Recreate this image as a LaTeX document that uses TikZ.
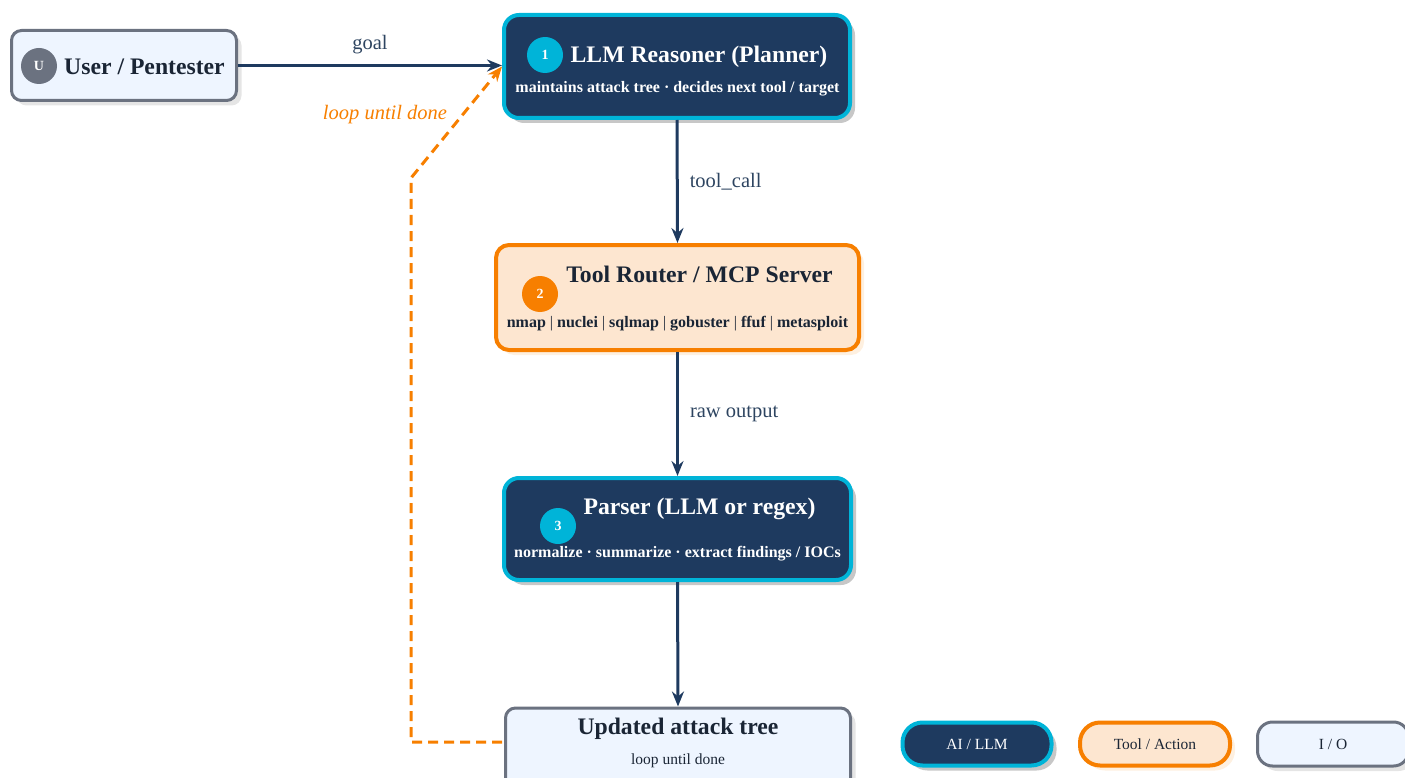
\documentclass[tikz,border=0pt]{standalone}
\usepackage{fontspec}
\setmainfont{Liberation Serif}
\usetikzlibrary{arrows.meta,shadows}
\definecolor{navy}{HTML}{1E3A5F}
\definecolor{cyanc}{HTML}{00B4D8}
\definecolor{orng}{HTML}{F77F00}
\definecolor{peach}{HTML}{FDE6D0}
\definecolor{slate}{HTML}{6B7280}
\definecolor{iofill}{HTML}{EEF5FF}
\definecolor{darktext}{HTML}{1A2535}
\definecolor{labelc}{HTML}{2D4460}
\tikzset{
  aibox/.style={draw=cyanc, fill=navy, line width=4pt, rounded corners=15pt, inner sep=0pt,
    drop shadow={shadow xshift=5pt, shadow yshift=-5pt, fill=black!22, opacity=1}},
  toolbox/.style={draw=orng, fill=peach, line width=4pt, rounded corners=13pt, inner sep=0pt,
    drop shadow={shadow xshift=5pt, shadow yshift=-5pt, fill=orng!12, opacity=1}},
  iobox/.style={draw=slate, fill=iofill, line width=3pt, rounded corners=10pt, inner sep=0pt,
    drop shadow={shadow xshift=5pt, shadow yshift=-5pt, fill=black!10, opacity=1}},
  badge/.style={circle, minimum size=36pt, inner sep=0pt, text=white,
    font=\bfseries\fontsize{14}{16}\selectfont},
  titletxt/.style={font=\bfseries\fontsize{23.7}{26}\selectfont, inner sep=0pt},
  subtxt/.style={font=\bfseries\fontsize{16}{18}\selectfont, inner sep=0pt},
  legtxt/.style={font=\fontsize{15.5}{18}\selectfont},
  flow/.style={draw=navy, line width=3pt, -{Stealth[length=15pt,width=12pt,inset=5pt]}},
  loopline/.style={draw=orng, line width=3pt, dash pattern=on 10pt off 6pt,
    -{Stealth[length=15pt,width=12pt,inset=5pt]}},
  elabel/.style={text=labelc, font=\fontsize{20.5}{24}\selectfont, inner sep=0pt}
}
\begin{document}
\begin{tikzpicture}[x=1pt,y=-1pt]
\useasboundingbox (0,0) rectangle (1405,778);
% boxes
\node[iobox, minimum width=225pt, minimum height=70pt] (user) at (124,65.5) {};
\node[badge, fill=slate] (ub) at (39,66) {U};
\node[titletxt, text=darktext, anchor=west] (ut) at (64,67) {User / Pentester};

\node[aibox, minimum width=346pt, minimum height=103pt] (llm) at (677,66.5) {};
\node[badge, fill=cyanc] (b1) at (545,55) {1};
\node[titletxt, text=white] (llmt) at (699,56.5) {LLM Reasoner (Planner)};
\node[subtxt, text=white] (llms) at (677.5,88.5) {maintains attack tree · decides next tool / target};

\node[toolbox, minimum width=363pt, minimum height=105pt] (tool) at (677.5,297.5) {};
\node[badge, fill=orng] (b2) at (540,294) {2};
\node[titletxt, text=darktext] (toolt) at (699.5,274.5) {Tool Router / MCP Server};
\node[subtxt, text=darktext] (tools) at (677.5,323.5) {nmap \mdseries|\bfseries{} nuclei \mdseries|\bfseries{} sqlmap \mdseries|\bfseries{} gobuster \mdseries|\bfseries{} ffuf \mdseries|\bfseries{} metasploit};

\node[aibox, minimum width=347pt, minimum height=102pt] (parser) at (677.5,529) {};
\node[badge, fill=cyanc] (b3) at (558,526) {3};
\node[titletxt, text=white] (parsert) at (699.5,508.5) {Parser (LLM or regex)};
\node[subtxt, text=white] (parsers) at (677.5,553.5) {normalize · summarize · extract findings / IOCs};

\node[iobox, minimum width=345pt, minimum height=84pt] (upd) at (678,750) {};
\node[titletxt, text=darktext] (updt) at (678,728.5) {Updated attack tree};
\node[legtxt, text=darktext] (upds) at (678,760.5) {loop until done};

% legend
\node[aibox, rounded corners=20pt, minimum width=149pt, minimum height=43pt, text=white, legtxt] (lg1) at (977,744) {AI / LLM};
\node[toolbox, rounded corners=20pt, minimum width=150pt, minimum height=43pt, text=darktext, legtxt] (lg2) at (1155,744) {Tool / Action};
\node[iobox, rounded corners=15pt, minimum width=151pt, minimum height=44pt, text=darktext, legtxt] (lg3) at (1333,744) {I / O};

% connectors
\draw[flow] (user.east) -- (user.east -| llm.west) node[elabel, midway, above=10pt] (lgoal) {goal};
\draw[flow] (llm.south) -- (tool.north) node[elabel, midway, anchor=west, xshift=11pt] (ltc) {tool\_call};
\draw[flow] (tool.south) -- (parser.north) node[elabel, midway, anchor=west, xshift=11pt] (lro) {raw output};
\draw[flow] (parser.south) -- (upd.north);

\coordinate (c1) at (411,742);
\coordinate (c2) at (411,178);
\coordinate (c0) at (502,742);
\draw[loopline] (c0) -- (c1) -- (c2) -- (llm.west);
\node[elabel, text=orng, font=\itshape\fontsize{20.5}{24}\selectfont] (lloop) at (385,115) {loop until done};
\end{tikzpicture}
\end{document}
